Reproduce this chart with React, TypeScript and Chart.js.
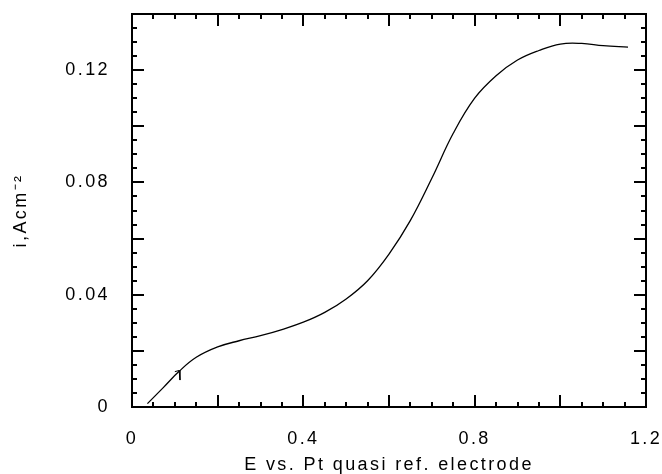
import React, { useEffect, useRef } from "react";
import { Chart, registerables } from "chart.js";

Chart.register(...registerables);

// Potential (V vs. Pt quasi ref. electrode)
const potential = [
  0.036, 0.073, 0.110, 0.15, 0.2, 0.25, 0.3, 0.35, 0.4, 0.45,
  0.5, 0.55, 0.6, 0.65, 0.7, 0.75, 0.8, 0.85, 0.9, 0.95,
  1.0, 1.05, 1.1, 1.158,
];
// Current density (A cm^-2)
const current = [
  0.0012, 0.0069, 0.0127, 0.0177, 0.0214, 0.0236, 0.0254, 0.0276, 0.0302, 0.0337,
  0.0385, 0.0450, 0.0545, 0.0665, 0.0815, 0.0975, 0.1100, 0.1180, 0.1236, 0.1270,
  0.1293, 0.1295, 0.1287, 0.1282,
];
// small scan-direction mark
const markPotential = [0.100, 0.110, 0.112];
const markCurrent = [0.0126, 0.0130, 0.0096];

const xTickLabels = [0, 0.4, 0.8, 1.2];
const yTickLabels = [0, 0.04, 0.08, 0.12];
const xRange = [0, 1.2];
const yRange = [0, 0.14];
const xTitle = "E vs. Pt quasi ref. electrode";
const yTitle = "i,Acm\u207B\u00B2";

const FONT = "'Liberation Sans', Arial, Helvetica, sans-serif";
const SPACING = "2.4px";

const framePlugin = {
  id: "frameTicks",
  beforeLayout(chart: any) {
    chart.ctx.letterSpacing = SPACING;
  },
  beforeDraw(chart: any) {
    chart.ctx.letterSpacing = SPACING;
  },
  afterDraw(chart: any) {
    const { ctx, chartArea } = chart;
    const xs = chart.scales.x;
    const ys = chart.scales.y;
    const { left, right, top, bottom } = chartArea;
    ctx.save();
    ctx.strokeStyle = "#000";
    ctx.lineWidth = 2;
    ctx.strokeRect(left, top, right - left, bottom - top);
    ctx.beginPath();
    // x ticks every 0.05, major every 0.2
    for (let k = 1; k < 24; k++) {
      const v = k * 0.05;
      const len = k % 4 === 0 ? 12 : 5;
      const px = Math.round(xs.getPixelForValue(v));
      ctx.moveTo(px, bottom);
      ctx.lineTo(px, bottom - len);
      ctx.moveTo(px, top);
      ctx.lineTo(px, top + len);
    }
    // y ticks every 0.005, major every 0.02
    for (let k = 1; k < 28; k++) {
      const v = k * 0.005;
      const len = k % 4 === 0 ? 12 : 5;
      const py = Math.round(ys.getPixelForValue(v));
      ctx.moveTo(left, py);
      ctx.lineTo(left + len, py);
      ctx.moveTo(right, py);
      ctx.lineTo(right - len, py);
    }
    ctx.stroke();
    ctx.restore();
  },
};

export default function App() {
  const ref = useRef<HTMLCanvasElement | null>(null);
  useEffect(() => {
    if (!ref.current) return;
    const mainData = potential.map((x, i) => ({ x, y: current[i] }));
    const markData = markPotential.map((x, i) => ({ x, y: markCurrent[i] }));
    const chart = new Chart(ref.current, {
      type: "line",
      data: {
        datasets: [
          {
            data: mainData,
            borderColor: "#000",
            borderWidth: 1.3,
            pointRadius: 0,
            tension: 0.4,
            fill: false,
          },
          {
            data: markData,
            borderColor: "#000",
            borderWidth: 1,
            pointRadius: 0,
            tension: 0,
            fill: false,
          },
        ],
      },
      options: {
        animation: false,
        responsive: false,
        events: [],
        layout: { padding: { top: 14, right: 16, left: 0, bottom: 0 } },
        plugins: { legend: { display: false }, tooltip: { enabled: false } },
        scales: {
          x: {
            type: "linear",
            min: xRange[0],
            max: xRange[1],
            grid: { display: false, drawTicks: false },
            border: { display: false },
            afterBuildTicks: (s: any) => {
              s.ticks = xTickLabels.map((v) => ({ value: v }));
            },
            afterFit: (s: any) => {
              s.height = 67;
              s.paddingLeft = 0;
              s.paddingRight = 0;
            },
            ticks: {
              padding: 21,
              color: "#000",
              maxRotation: 0,
              font: { family: FONT, size: 18 },
              callback: (v: any) => String(v),
            },
            title: {
              display: true,
              text: xTitle,
              color: "#000",
              font: { family: FONT, size: 18 },
              padding: { top: 0, bottom: -2 },
            },
          },
          y: {
            type: "linear",
            min: yRange[0],
            max: yRange[1],
            grid: { display: false, drawTicks: false },
            border: { display: false },
            afterBuildTicks: (s: any) => {
              s.ticks = yTickLabels.map((v) => ({ value: v }));
            },
            afterFit: (s: any) => {
              s.width = 132;
              s.paddingTop = 0;
              s.paddingBottom = 0;
            },
            ticks: {
              padding: 22,
              color: "#000",
              font: { family: FONT, size: 18 },
              callback: (v: any) => String(v),
            },
            title: {
              display: true,
              text: yTitle,
              color: "#000",
              font: { family: FONT, size: 18 },
              padding: { top: 10, bottom: 0 },
            },
          },
        },
      },
      plugins: [framePlugin],
    } as any);
    return () => chart.destroy();
  }, []);
  return (
    <div style={{ position: "absolute", left: 0, top: 0, width: 662, height: 474, background: "#fff" }}>
      <canvas ref={ref} width={662} height={474} />
    </div>
  );
}
